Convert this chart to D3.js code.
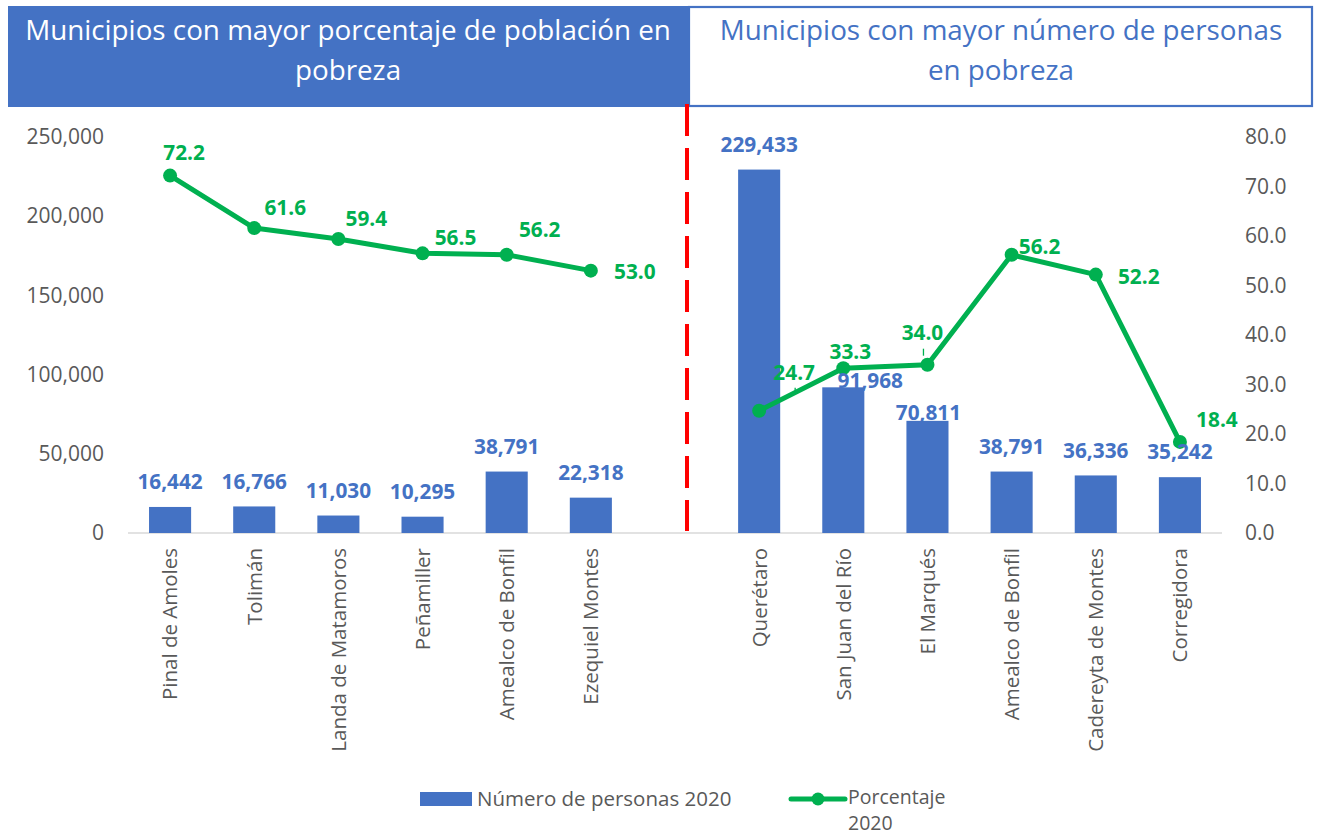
<!DOCTYPE html>
<html>
<head>
<meta charset="utf-8">
<script src="https://cdn.jsdelivr.net/npm/d3@7"></script>
<style>
  html, body { margin: 0; padding: 0; background: #fff; }
  svg { display: block; font-family: "Open Sans", "DejaVu Sans", sans-serif; }
</style>
</head>
<body>
<svg id="chart" width="1319" height="836"></svg>
<script>
// ---------- data ----------
const categories = ["Pinal de Amoles", "Tolimán", "Landa de Matamoros", "Peñamiller", "Amealco de Bonfil", "Ezequiel Montes", "",
                    "Querétaro", "San Juan del Río", "El Marqués", "Amealco de Bonfil", "Cadereyta de Montes", "Corregidora"];
const personas2020 = [16442, 16766, 11030, 10295, 38791, 22318, null, 229433, 91968, 70811, 38791, 36336, 35242];
const porcentaje2020 = [72.2, 61.6, 59.4, 56.5, 56.2, 53.0, null, 24.7, 33.3, 34.0, 56.2, 52.2, 18.4];
const leftTicks = [0, 50000, 100000, 150000, 200000, 250000];
const rightTicks = [0, 10, 20, 30, 40, 50, 60, 70, 80];
const titleLeft = ["Municipios con mayor porcentaje de población en", "pobreza"];
const titleRight = ["Municipios con mayor número de personas", "en pobreza"];
const legendLabels = ["Número de personas 2020", "Porcentaje", "2020"];

// ---------- layout ----------
const BLUE = "#4472C4", GREEN = "#00B050", RED = "#FF0000", GREY = "#595959";
const plot = { x0: 128, x1: 1222, y0: 533, y1: 137 };
// label offsets (layout only)
const lineLabelOffsets = [[14, -23], [31, -21], [28, -20], [33, -16], [33, -25], [44, 1], null,
                          [35, -38], [7, -17], [-5, -32], [28, -8], [43, 2], [37, -22]];
const barLabelOffsets = [[0, -25], [0, -25], [0, -25], [0, -25], [0, -25], [0, -25], null,
                         [0, -25], [27, -7], [1, -8], [0, -25], [0, -25], [0, -26]];

const svg = d3.select("#chart");
const idx = d3.range(categories.length);

const x = d3.scaleBand().domain(idx).range([plot.x0, plot.x1]).paddingInner(0.5).paddingOuter(0.25);
const yL = d3.scaleLinear().domain([0, 250000]).range([plot.y0, plot.y1]);
const yR = d3.scaleLinear().domain([0, 80]).range([plot.y0, plot.y1]);
const cx = i => x(i) + x.bandwidth() / 2;

// ---------- header boxes ----------
svg.append("rect").attr("x", 8).attr("y", 6).attr("width", 680).attr("height", 101).attr("fill", BLUE);
svg.append("rect").attr("x", 689).attr("y", 7).attr("width", 623).attr("height", 99)
  .attr("fill", "#fff").attr("stroke", BLUE).attr("stroke-width", 2.2);

const tL = svg.append("text").attr("text-anchor", "middle").attr("fill", "#fff").style("font-size", "27.8px");
titleLeft.forEach((t, k) => tL.append("tspan").attr("x", 348).attr("y", 40 + k * 40).text(t));
const tR = svg.append("text").attr("text-anchor", "middle").attr("fill", BLUE).style("font-size", "27.8px");
titleRight.forEach((t, k) => tR.append("tspan").attr("x", 1001).attr("y", 40 + k * 40).text(t));

// ---------- axes ----------
const axL = svg.append("g").attr("transform", `translate(${plot.x0 - 24},0)`)
  .call(d3.axisLeft(yL).tickValues(leftTicks).tickSize(0).tickPadding(0).tickFormat(d3.format(",")));
const axR = svg.append("g").attr("transform", `translate(${plot.x1 + 23},0)`)
  .call(d3.axisRight(yR).tickValues(rightTicks).tickSize(0).tickPadding(0).tickFormat(d3.format(".1f")));
[axL, axR].forEach(a => {
  a.select(".domain").remove();
  a.selectAll("text").attr("fill", GREY).style("font-size", "21px").style("font-family", "'Open Sans', sans-serif");
});

// baseline
svg.append("line").attr("x1", plot.x0).attr("x2", plot.x1).attr("y1", plot.y0).attr("y2", plot.y0)
  .attr("stroke", "#D9D9D9").attr("stroke-width", 1.5);

// category labels
const axX = svg.append("g").attr("transform", `translate(0,${plot.y0})`)
  .call(d3.axisBottom(x).tickSize(0).tickFormat(i => categories[i]));
axX.select(".domain").remove();
axX.selectAll(".tick text")
  .attr("fill", GREY).style("font-size", "20.5px").style("font-family", "'Open Sans', sans-serif")
  .attr("text-anchor", "end").attr("transform", "rotate(-90)")
  .attr("x", -15).attr("y", 0).attr("dy", "0.36em");

// ---------- bars ----------
svg.append("g").selectAll("rect")
  .data(idx.filter(i => personas2020[i] != null))
  .join("rect")
  .attr("x", i => x(i)).attr("width", x.bandwidth())
  .attr("y", i => yL(personas2020[i])).attr("height", i => yL(0) - yL(personas2020[i]))
  .attr("fill", BLUE);

// ---------- separator ----------
svg.append("line").attr("x1", cx(6) + 12).attr("x2", cx(6) + 12).attr("y1", 104).attr("y2", 531)
  .attr("stroke", RED).attr("stroke-width", 4).attr("stroke-dasharray", "32,12");

// ---------- line ----------
const line = d3.line().defined(i => porcentaje2020[i] != null).x(cx).y(i => yR(porcentaje2020[i]));
svg.append("path").datum(idx).attr("d", line)
  .attr("fill", "none").attr("stroke", GREEN).attr("stroke-width", 5).attr("stroke-linejoin", "round").attr("stroke-linecap", "round");
svg.append("g").selectAll("circle")
  .data(idx.filter(i => porcentaje2020[i] != null))
  .join("circle").attr("cx", cx).attr("cy", i => yR(porcentaje2020[i])).attr("r", 7).attr("fill", GREEN);

// leader lines for two labels
[[9, -4, -16, -4, -9], [7, 36, -20, 36, -23]].forEach(([i, ax1, ay1, ax2, ay2]) => {
  svg.append("line")
    .attr("x1", cx(i) + ax1).attr("y1", yR(porcentaje2020[i]) + ay1)
    .attr("x2", cx(i) + ax2).attr("y2", yR(porcentaje2020[i]) + ay2)
    .attr("stroke", GREEN).attr("stroke-width", 1.3);
});

// ---------- data labels ----------
svg.append("g").selectAll("text")
  .data(idx.filter(i => personas2020[i] != null))
  .join("text")
  .attr("x", i => cx(i) + barLabelOffsets[i][0])
  .attr("y", i => yL(personas2020[i]) + barLabelOffsets[i][1])
  .attr("dy", "0.36em").attr("text-anchor", "middle")
  .attr("fill", BLUE).style("font-size", "20.8px").style("font-weight", "bold")
  .text(i => d3.format(",")(personas2020[i]));

svg.append("g").selectAll("text")
  .data(idx.filter(i => porcentaje2020[i] != null))
  .join("text")
  .attr("x", i => cx(i) + lineLabelOffsets[i][0])
  .attr("y", i => yR(porcentaje2020[i]) + lineLabelOffsets[i][1])
  .attr("dy", "0.36em").attr("text-anchor", "middle")
  .attr("fill", GREEN).style("font-size", "20.8px").style("font-weight", "bold")
  .text(i => d3.format(".1f")(porcentaje2020[i]));

// ---------- legend ----------
const lg = svg.append("g");
lg.append("rect").attr("x", 420).attr("y", 792).attr("width", 52).attr("height", 14).attr("fill", BLUE);
lg.append("text").attr("x", 477).attr("y", 806).attr("fill", GREY).style("font-size", "20.5px").text(legendLabels[0]);
lg.append("line").attr("x1", 791).attr("x2", 845).attr("y1", 799).attr("y2", 799)
  .attr("stroke", GREEN).attr("stroke-width", 5).attr("stroke-linecap", "round");
lg.append("circle").attr("cx", 818).attr("cy", 799).attr("r", 6.5).attr("fill", GREEN);
lg.append("text").attr("x", 848).attr("y", 804).attr("fill", GREY).style("font-size", "19.5px").text(legendLabels[1]);
lg.append("text").attr("x", 848).attr("y", 830).attr("fill", GREY).style("font-size", "19.5px").text(legendLabels[2]);
</script>
</body>
</html>
